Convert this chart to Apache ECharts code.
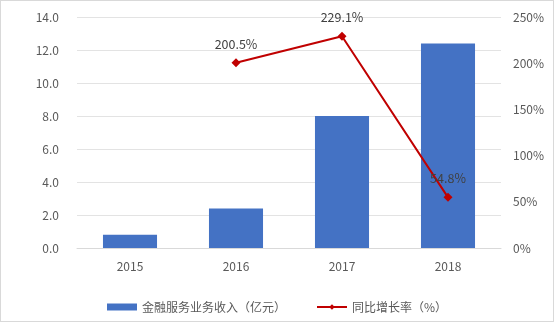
<!DOCTYPE html>
<html>
<head>
<meta charset="utf-8">
<script src="https://cdn.jsdelivr.net/npm/echarts@6/dist/echarts.min.js"></script>
<style>
html, body { margin: 0; padding: 0; background: #fff; }
#container { width: 552px; height: 320px; border: 1px solid #d9d9d9; }
</style>
</head>
<body>
<div id="container"></div>
<script>
var years = ['2015', '2016', '2017', '2018']
var income = [0.8, 2.4, 8.0, 12.4]
var growth = [null, 200.5, 229.1, 54.8]

var myChart = echarts.init(document.getElementById('container'))
var font = 'Noto Sans CJK SC'
var option = {
  backgroundColor: '#fff',
  textStyle: { fontFamily: font },
  grid: { left: 76, right: 52, top: 16, bottom: 73 },
  legend: {
    bottom: 3,
    itemGap: 30,
    itemWidth: 30,
    itemHeight: 7,
    textStyle: { color: '#595959', fontSize: 12, fontFamily: font },
    data: [
      { name: '金融服务业务收入（亿元）', icon: 'rect' },
      { name: '同比增长率（%）' }
    ]
  },
  xAxis: {
    type: 'category',
    data: years,
    axisLine: { lineStyle: { color: '#d9d9d9' } },
    axisTick: { show: false },
    axisLabel: { color: '#595959', fontSize: 12, margin: 12 }
  },
  yAxis: [{
    type: 'value',
    min: 0,
    max: 14,
    interval: 2,
    axisLine: { show: false },
    axisTick: { show: false },
    axisLabel: { color: '#595959', fontSize: 12, margin: 18, formatter: function (v) { return v.toFixed(1) } },
    splitLine: { lineStyle: { color: '#e3e3e3' } }
  }, {
    type: 'value',
    min: 0,
    max: 250,
    interval: 50,
    axisLine: { show: false },
    axisTick: { show: false },
    axisLabel: { color: '#595959', fontSize: 12, margin: 12, formatter: '{value}%' },
    splitLine: { show: false }
  }],
  series: [{
    name: '金融服务业务收入（亿元）',
    type: 'bar',
    data: income,
    barWidth: '51%',
    itemStyle: { color: '#4472C4' }
  }, {
    name: '同比增长率（%）',
    type: 'line',
    yAxisIndex: 1,
    data: growth,
    symbol: 'diamond',
    symbolSize: 9,
    lineStyle: { color: '#C00000', width: 2 },
    itemStyle: { color: '#C00000' },
    label: {
      show: true,
      position: 'top',
      distance: 8,
      color: '#404040',
      fontSize: 12.5,
      formatter: function (p) { return p.value.toFixed(1) + '%' }
    }
  }]
}
myChart.setOption(option)
</script>
</body>
</html>
